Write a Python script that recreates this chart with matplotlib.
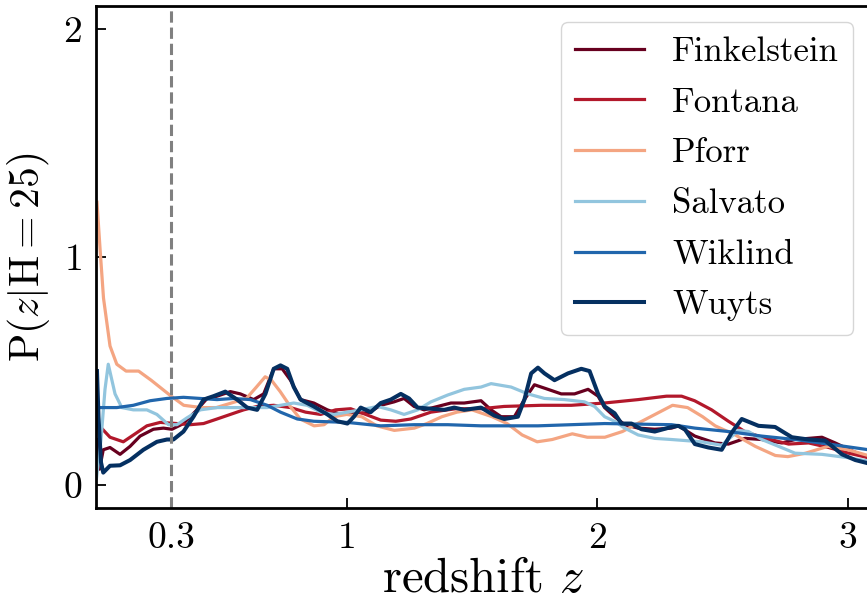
import matplotlib
matplotlib.use("Agg")
import matplotlib.pyplot as plt

# redshift probability distributions at H = 25, one per SED-fitting team
z_finkelstein = [0.004, 0.014, 0.029, 0.056, 0.096, 0.136, 0.176, 0.229, 0.269, 0.303, 0.349, 0.403,
                 0.443, 0.483, 0.536, 0.576, 0.629, 0.669, 0.709, 0.743, 0.776, 0.816, 0.869, 0.923,
                 0.976, 1.029, 1.083, 1.136, 1.189, 1.229, 1.269, 1.309, 1.363, 1.416, 1.469, 1.536,
                 1.576, 1.616, 1.669, 1.709, 1.749, 1.803, 1.856, 1.909, 1.963, 2.003, 2.029, 2.069,
                 2.109, 2.163, 2.229, 2.296, 2.323, 2.389, 2.469, 2.523, 2.589, 2.656, 2.736, 2.789,
                 2.896, 2.949, 3.016, 3.083]
p_finkelstein = [0.20, 0.07, 0.155, 0.165, 0.135, 0.17, 0.215, 0.245, 0.25, 0.245, 0.27, 0.33,
                 0.38, 0.39, 0.41, 0.40, 0.375, 0.40, 0.51, 0.51, 0.46, 0.375, 0.36, 0.33,
                 0.31, 0.32, 0.315, 0.35, 0.365, 0.38, 0.345, 0.33, 0.345, 0.36, 0.36, 0.37,
                 0.33, 0.30, 0.30, 0.375, 0.44, 0.42, 0.40, 0.40, 0.42, 0.39, 0.34, 0.30,
                 0.265, 0.25, 0.245, 0.25, 0.26, 0.215, 0.185, 0.18, 0.205, 0.20, 0.185, 0.20,
                 0.21, 0.185, 0.15, 0.12]

z_fontana = [0.005, 0.056, 0.109, 0.163, 0.203, 0.256, 0.323, 0.376, 0.429, 0.483, 0.536, 0.589,
             0.643, 0.709, 0.776, 0.836, 0.896, 0.956, 1.016, 1.076, 1.136, 1.196, 1.256, 1.336,
             1.436, 1.536, 1.628, 1.776, 1.896, 2.028, 2.163, 2.276, 2.336, 2.388, 2.456, 2.523,
             2.588, 2.656, 2.763, 2.843, 2.923, 3.003, 3.083]
p_fontana = [0.27, 0.21, 0.19, 0.23, 0.26, 0.275, 0.27, 0.265, 0.27, 0.29, 0.31, 0.33,
             0.345, 0.35, 0.34, 0.32, 0.31, 0.33, 0.335, 0.31, 0.285, 0.28, 0.29, 0.32,
             0.335, 0.335, 0.345, 0.35, 0.35, 0.36, 0.375, 0.39, 0.39, 0.37, 0.33, 0.28,
             0.235, 0.21, 0.18, 0.185, 0.165, 0.14, 0.12]

z_pforr = [0.004, 0.016, 0.03, 0.056, 0.083, 0.12, 0.17, 0.22, 0.30, 0.35, 0.42, 0.48,
           0.54, 0.60, 0.64, 0.675, 0.70, 0.735, 0.775, 0.815, 0.87, 0.91, 0.95, 1.00,
           1.06, 1.12, 1.19, 1.27, 1.32, 1.38, 1.44, 1.50, 1.58, 1.64, 1.70, 1.76,
           1.82, 1.90, 1.96, 2.03, 2.10, 2.16, 2.23, 2.30, 2.36, 2.42, 2.47, 2.55,
           2.63, 2.71, 2.76, 2.83, 2.92, 3.00, 3.08]
p_pforr = [1.24, 1.04, 0.82, 0.61, 0.53, 0.50, 0.50, 0.46, 0.39, 0.35, 0.34, 0.34,
           0.36, 0.38, 0.43, 0.475, 0.46, 0.41, 0.345, 0.29, 0.26, 0.265, 0.30, 0.31,
           0.30, 0.26, 0.24, 0.25, 0.27, 0.30, 0.32, 0.33, 0.30, 0.27, 0.22, 0.19,
           0.20, 0.225, 0.21, 0.21, 0.235, 0.27, 0.31, 0.35, 0.34, 0.30, 0.26, 0.22,
           0.17, 0.13, 0.125, 0.14, 0.17, 0.155, 0.13]

z_salvato = [0.002, 0.02, 0.036, 0.049, 0.076, 0.103, 0.149, 0.203, 0.243, 0.289, 0.323, 0.363,
             0.416, 0.483, 0.549, 0.616, 0.683, 0.736, 0.789, 0.843, 0.896, 0.949, 1.003, 1.056,
             1.123, 1.176, 1.229, 1.283, 1.336, 1.403, 1.469, 1.536, 1.576, 1.656, 1.723, 1.789,
             1.869, 1.949, 1.989, 2.029, 2.069, 2.109, 2.163, 2.229, 2.296, 2.416, 2.496, 2.563,
             2.603, 2.656, 2.723, 2.789, 2.896, 3.003, 3.083]
p_salvato = [0.03, 0.2, 0.42, 0.53, 0.40, 0.34, 0.33, 0.33, 0.31, 0.265, 0.265, 0.295,
             0.33, 0.34, 0.34, 0.34, 0.34, 0.35, 0.36, 0.35, 0.32, 0.31, 0.32, 0.33,
             0.345, 0.33, 0.31, 0.33, 0.365, 0.395, 0.42, 0.43, 0.445, 0.43, 0.40, 0.38,
             0.375, 0.365, 0.345, 0.30, 0.28, 0.25, 0.22, 0.205, 0.20, 0.19, 0.175, 0.24,
             0.235, 0.20, 0.17, 0.14, 0.135, 0.12, 0.105]

z_wiklind = [0.005, 0.083, 0.149, 0.216, 0.283, 0.349, 0.416, 0.483, 0.549, 0.616, 0.683, 0.736,
             0.803, 0.869, 1.003, 1.136, 1.269, 1.403, 1.536, 1.763, 2.029, 2.296, 2.389, 2.523,
             2.656, 2.789, 2.923, 3.083]
p_wiklind = [0.34, 0.34, 0.35, 0.37, 0.38, 0.385, 0.38, 0.375, 0.38, 0.375, 0.35, 0.32,
             0.29, 0.28, 0.275, 0.26, 0.265, 0.265, 0.26, 0.26, 0.27, 0.265, 0.25, 0.235,
             0.215, 0.20, 0.18, 0.155]

z_wuyts = [0.004, 0.01, 0.02, 0.029, 0.056, 0.096, 0.136, 0.189, 0.243, 0.283, 0.309, 0.349,
           0.389, 0.429, 0.469, 0.516, 0.563, 0.603, 0.643, 0.676, 0.709, 0.736, 0.763, 0.789,
           0.816, 0.869, 0.923, 0.963, 1.003, 1.029, 1.056, 1.096, 1.136, 1.176, 1.216, 1.249,
           1.283, 1.336, 1.389, 1.429, 1.469, 1.536, 1.589, 1.629, 1.683, 1.709, 1.736, 1.763,
           1.789, 1.829, 1.883, 1.936, 1.969, 2.003, 2.029, 2.069, 2.096, 2.136, 2.176, 2.229,
           2.296, 2.323, 2.349, 2.389, 2.443, 2.496, 2.536, 2.576, 2.643, 2.709, 2.776, 2.843,
           2.909, 2.976, 3.029, 3.083]
p_wuyts = [0.50, 0.30, 0.10, 0.055, 0.085, 0.087, 0.11, 0.155, 0.19, 0.20, 0.20, 0.235,
           0.30, 0.375, 0.39, 0.41, 0.375, 0.34, 0.33, 0.40, 0.51, 0.525, 0.51, 0.43,
           0.375, 0.345, 0.31, 0.28, 0.27, 0.30, 0.34, 0.32, 0.36, 0.375, 0.40, 0.38,
           0.34, 0.335, 0.33, 0.34, 0.33, 0.34, 0.305, 0.29, 0.30, 0.375, 0.49, 0.515,
           0.49, 0.46, 0.49, 0.51, 0.50, 0.40, 0.345, 0.315, 0.27, 0.27, 0.245, 0.235,
           0.255, 0.26, 0.245, 0.18, 0.165, 0.155, 0.23, 0.29, 0.26, 0.255, 0.21, 0.20,
           0.195, 0.135, 0.11, 0.095]

names = ["Finkelstein", "Fontana", "Pforr", "Salvato", "Wiklind", "Wuyts"]
colors = ["#67001f", "#b2182b", "#f4a582", "#92c5de", "#2166ac", "#053061"]
widths = [2.3, 2.3, 2.3, 2.3, 2.3, 2.9]

z_cut = 0.3
xticks = [0.3, 1, 2, 3]
xticklabels = ["0.3", "1", "2", "3"]
yticks = [0, 1, 2]

plt.rcParams["font.family"] = "serif"
plt.rcParams["font.serif"] = ["cmr10"]
plt.rcParams["mathtext.fontset"] = "cm"
plt.rcParams["axes.formatter.use_mathtext"] = True

fig = plt.figure(figsize=(8.67, 6.04), dpi=100)
ax = fig.add_axes([0.1107, 0.159, 0.892, 0.831])

series = [(z_finkelstein, p_finkelstein), (z_fontana, p_fontana), (z_pforr, p_pforr),
          (z_salvato, p_salvato), (z_wiklind, p_wiklind), (z_wuyts, p_wuyts)]
for (zz, pp), name, c, lw in zip(series, names, colors, widths):
    ax.plot(zz, pp, color=c, lw=lw, label=name, solid_joinstyle="round")

# z = 0.3 cut
ax.axvline(z_cut, color="gray", ls="--", lw=2.2)

ax.set_xlim(0, 3.085)
ax.set_ylim(-0.1, 2.1)
ax.set_xticks(xticks)
ax.set_xticklabels(xticklabels)
ax.set_yticks(yticks)
ax.tick_params(direction="in", length=7, width=1.3, labelsize=27, pad=10)
for sp in ax.spines.values():
    sp.set_linewidth(2)

ax.set_xlabel(r"redshift $z$", fontsize=35, labelpad=2)
ax.set_ylabel(r"P($z|\mathrm{H}=25$)", fontsize=30, labelpad=8)

ax.legend(loc="upper right", fontsize=25, handlelength=2.0, labelspacing=0.55,
          borderaxespad=0.25, bbox_to_anchor=(0.99, 0.985))

fig.savefig("out.png", dpi=100)
